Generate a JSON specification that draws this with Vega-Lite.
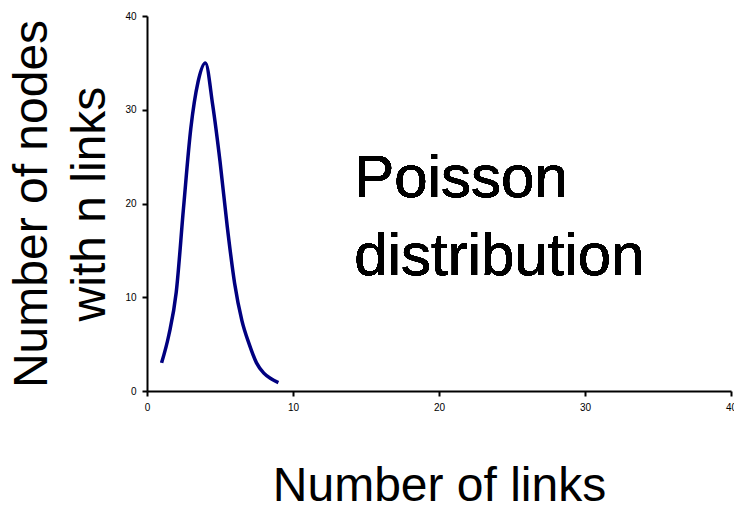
{
  "$schema": "https://vega.github.io/schema/vega-lite/v6.json",
  "autosize": "none",
  "padding": {"left": 147, "top": 16, "right": 3, "bottom": 117},
  "width": 584,
  "height": 375,
  "background": "white",
  "config": {
    "view": {"stroke": null},
    "font": "Liberation Sans",
    "axis": {
      "grid": false,
      "domainColor": "black",
      "domainWidth": 2,
      "tickColor": "black",
      "tickWidth": 2,
      "tickSize": 5,
      "labelColor": "black",
      "labelFont": "Liberation Sans",
      "labelFontSize": 10,
      "labelPadding": 6,
      "titleColor": "black",
      "titleFont": "Liberation Sans",
      "titleFontSize": 48,
      "titleFontWeight": "normal"
    }
  },
  "data": {
    "values": [
      {"links": 1, "nodes": 3},
      {"links": 1.5, "nodes": 6},
      {"links": 2, "nodes": 10.5},
      {"links": 2.5, "nodes": 19.5},
      {"links": 3, "nodes": 28},
      {"links": 3.5, "nodes": 33},
      {"links": 4, "nodes": 35},
      {"links": 4.5, "nodes": 30.5},
      {"links": 5, "nodes": 24.5},
      {"links": 5.5, "nodes": 17.5},
      {"links": 6, "nodes": 11.5},
      {"links": 6.5, "nodes": 7.5},
      {"links": 7, "nodes": 5},
      {"links": 7.5, "nodes": 3},
      {"links": 8, "nodes": 1.9},
      {"links": 8.5, "nodes": 1.3},
      {"links": 9, "nodes": 0.9}
    ]
  },
  "layer": [
    {
      "mark": {"type": "line", "color": "#000080", "strokeWidth": 3.5, "interpolate": "monotone"},
      "encoding": {
        "x": {
          "field": "links",
          "type": "quantitative",
          "scale": {"domain": [0, 40], "nice": false},
          "axis": {"values": [0, 10, 20, 30, 40], "title": "Number of links", "titlePadding": 50, "labelFlush": false}
        },
        "y": {
          "field": "nodes",
          "type": "quantitative",
          "scale": {"domain": [0, 40], "nice": false},
          "axis": {"values": [0, 10, 20, 30, 40], "title": ["Number of nodes", "with n links"], "titlePadding": 10, "titleLineHeight": 58}
        }
      }
    },
    {
      "mark": {"type": "text", "text": ["Poisson", "distribution"], "font": "Liberation Sans", "fontSize": 60, "lineHeight": 78, "align": "left", "baseline": "alphabetic", "color": "black"},
      "encoding": {
        "x": {"datum": 14.2},
        "y": {"datum": 20.7}
      }
    }
  ]
}
